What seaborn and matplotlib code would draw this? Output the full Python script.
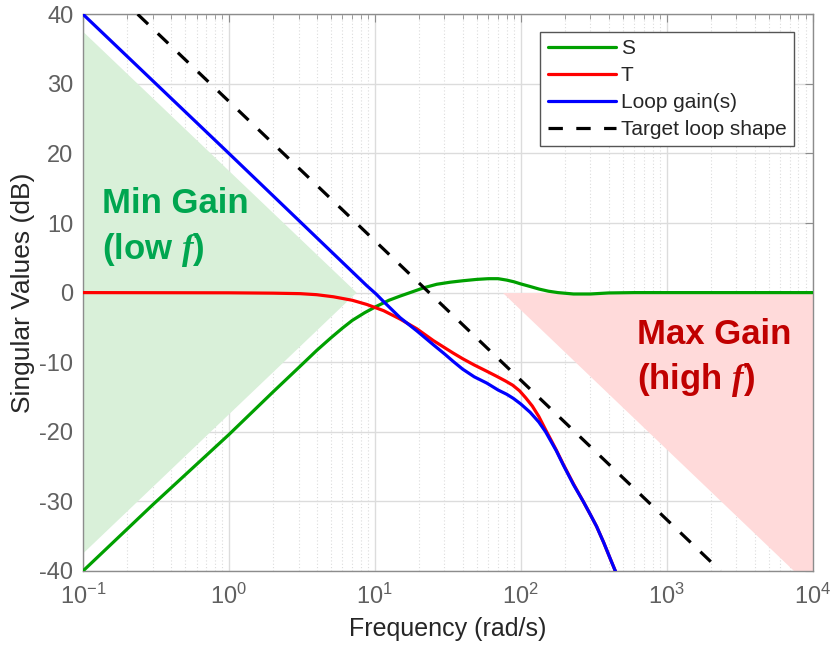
import numpy as np
import pandas as pd
import seaborn as sns
import matplotlib.pyplot as plt
from matplotlib.ticker import LogLocator, NullFormatter, MultipleLocator

# frekuensi (rad/s) dan nilai singular (dB)
s_freq = [0.1, 0.3, 1, 2, 3, 4, 5, 6, 7, 8.5, 10.2, 12.5, 14.9, 18, 21.7, 26.6,
          33, 40, 50, 60, 70, 80, 90, 100, 115, 134, 155, 180, 230, 300, 400,
          600, 10000]
s_db = [-40, -30.5, -20.4, -14.3, -10.8, -8.3, -6.5, -5.1, -4.0, -2.9, -2.0,
        -1.1, -0.5, 0.1, 0.7, 1.2, 1.5, 1.7, 1.9, 2.0, 2.0, 1.8, 1.55, 1.25,
        0.9, 0.5, 0.2, 0.0, -0.2, -0.2, -0.05, 0.0, 0.0]

t_freq = [0.1, 1, 2, 3.08, 4, 5.2, 7, 8.8, 11.5, 14.9, 19.4, 25.2, 30, 34.5,
          40, 48, 58.5, 68, 78.6, 88, 98, 108, 120, 133, 148, 175, 196, 230,
          268, 300, 331, 370, 410, 455]
t_db = [0, -0.03, -0.08, -0.15, -0.3, -0.6, -1.1, -1.7, -2.6, -3.8, -5.2, -6.9,
        -7.9, -8.7, -9.5, -10.4, -11.3, -12.0, -12.7, -13.3, -14.1, -15.1, -16.3,
        -17.8, -19.7, -22.6, -24.7, -27.5, -30.0, -31.9, -33.6, -35.9, -38.2,
        -40.5]

l_freq = [0.1, 1, 8.8, 10.2, 11.5, 14.9, 19.4, 25.2, 30, 34.5, 40, 48,
          58.5, 70, 80, 89, 100, 116, 133, 148, 175, 196, 230, 268, 300, 331,
          370, 410, 455]
l_db = [40, 20, 1.0, -0.2, -1.3, -3.6, -5.5, -7.5, -8.8, -9.9, -11.0,
        -12.1, -13.0, -14.0, -14.6, -15.2, -16.0, -17.2, -18.6, -20.0, -22.7,
        -24.8, -27.6, -30.0, -31.9, -33.6, -35.9, -38.2, -40.5]

target_freq = [0.237, 2340]
target_db = [40, -40]

# daerah batas gain
min_gain_freq = [0.1, 7.5, 0.1]
min_gain_db = [37.5, 0, -37.5]
max_gain_freq = [75, 10000, 10000, 7500]
max_gain_db = [0, 0, -40, -40]

sns.set_style('white')
plt.rcParams['font.family'] = ['Liberation Sans', 'DejaVu Sans']
plt.rcParams['axes.unicode_minus'] = False
plt.rcParams['mathtext.fontset'] = 'custom'
plt.rcParams['mathtext.it'] = 'Liberation Serif:italic:bold'
plt.rcParams['mathtext.rm'] = 'Liberation Sans'

fig = plt.figure(figsize=(8.3, 6.47), dpi=100)
ax = fig.add_axes([0.1, 0.1175, 0.879, 0.8605])

ax.fill(min_gain_freq, min_gain_db, color='#d9f0d9', lw=0, zorder=1)
ax.fill(max_gain_freq, max_gain_db, color='#ffdada', lw=0, zorder=1)

lw = 2.3
sns.lineplot(x=s_freq, y=s_db, ax=ax, color='#00a000', lw=lw, label='S', zorder=3)
sns.lineplot(x=t_freq, y=t_db, ax=ax, color='#ff0000', lw=lw, label='T', zorder=4)
sns.lineplot(x=l_freq, y=l_db, ax=ax, color='#0000ff', lw=lw, label='Loop gain(s)', zorder=5)
sns.lineplot(x=target_freq, y=target_db, ax=ax, color='black', lw=lw,
             label='Target loop shape', zorder=6)
ax.lines[-1].set_dashes((4.5, 4.2))

ax.set_xscale('log')
ax.set_xlim(0.1, 10000)
ax.set_ylim(-40, 40)
ax.yaxis.set_major_locator(MultipleLocator(10))
ax.xaxis.set_minor_locator(LogLocator(base=10, subs=np.arange(2, 10), numticks=20))
ax.xaxis.set_minor_formatter(NullFormatter())

ax.grid(True, which='major', color='#dcdcdc', lw=1.0, zorder=0)
ax.grid(True, which='minor', axis='x', color='#dcdcdc', lw=0.8, ls=(0, (1, 2)), zorder=0)
ax.set_axisbelow(True)

for sp in ax.spines.values():
    sp.set_color('#8c8c8c')
    sp.set_linewidth(1.0)
ax.tick_params(which='both', direction='in', top=True, right=True, color='#8c8c8c',
               labelcolor='#606060', labelsize=17)
ax.tick_params(which='major', length=6)
ax.tick_params(which='minor', length=3.5)
ax.tick_params(axis='x', pad=9)
ax.tick_params(axis='y', pad=7)

ax.set_xlabel('Frequency (rad/s)', fontsize=18, labelpad=6)
ax.set_ylabel('Singular Values (dB)', fontsize=19, labelpad=3)

leg = ax.legend(loc='upper right', bbox_to_anchor=(0.974, 0.968), borderaxespad=0,
                fontsize=15, handlelength=3.3, labelspacing=0.38, handletextpad=0.2,
                borderpad=0.35, fancybox=False, framealpha=1)
leg.get_frame().set_edgecolor('#555555')
leg.get_frame().set_linewidth(1.0)

ax.text(0.135, 12.8, 'Min Gain', color='#00a650', fontsize=25, fontweight='bold',
        va='center', ha='left', zorder=7)
ax.text(0.135, 6.1, '(low $f$)', color='#00a650', fontsize=25, fontweight='bold',
        va='center', ha='left', zorder=7)
ax.text(624, -6.0, 'Max Gain', color='#c00000', fontsize=25, fontweight='bold',
        va='center', ha='left', zorder=7)
ax.text(624, -12.5, '(high $f$)', color='#c00000', fontsize=25, fontweight='bold',
        va='center', ha='left', zorder=7)

fig.savefig('out.png', dpi=100)
